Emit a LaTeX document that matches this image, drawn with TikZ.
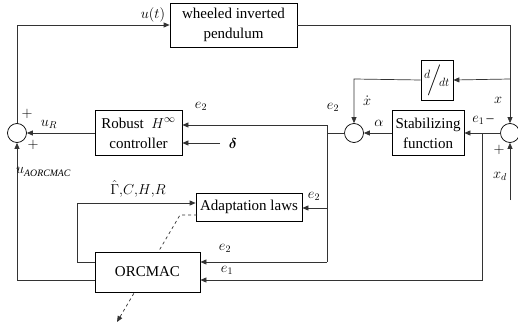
\documentclass[tikz,border=0pt]{standalone}
\usepackage{amsmath}
\usepackage{fontspec}
\setmainfont{Liberation Serif}
\usetikzlibrary{arrows.meta}
\begin{document}
\begin{tikzpicture}[x=1pt,y=-1pt,
  blk/.style={draw,line width=0.7pt,fill=white,inner sep=0pt,align=center,font=\fontsize{15}{20}\selectfont},
  sumc/.style={draw,circle,line width=0.7pt,minimum size=19pt,inner sep=0pt},
  ln/.style={line width=0.7pt,black!80},
  arr/.style={ln,-{Triangle[length=6pt,width=5pt]}},
  lbl/.style={font=\fontsize{14}{16}\selectfont,inner sep=0pt}]
\useasboundingbox (0,0) rectangle (518,326);
% blocks
\node[blk,minimum width=127pt,minimum height=44pt] (plant) at (233.5,25) {wheeled inverted\\pendulum};
\node[blk,minimum width=87pt,minimum height=45pt] (robust) at (138.5,133) {Robust\ \ $H^{\infty}$\\controller};
\node[blk,minimum width=32pt,minimum height=40pt] (ddt) at (437,80) {\fontsize{17}{17}\selectfont$^{d}\!\Big/\!_{dt}$};
\node[blk,minimum width=72pt,minimum height=45pt] (stab) at (428,133) {Stabilizing\\function};
\node[blk,minimum width=106pt,minimum height=28pt] (adapt) at (249,207) {Adaptation laws};
% summing junctions
\node[sumc] (sumL) at (17,133) {};
\node[sumc] (sumM) at (354,133) {};
\node[sumc] (sumR) at (510,133) {};
% coordinates
\coordinate (xb) at (510,79);
\coordinate (ddtc) at (354,79);
\coordinate (e1b) at (482,133);
\coordinate (e1c) at (482,280);
\coordinate (e2a) at (327,133);
\coordinate (e2t) at (327,125);
\coordinate (e2m) at (327,208);
\coordinate (e2b) at (327,262);
\coordinate (dlt) at (220,143);
\coordinate (xd) at (510,200);
\coordinate (lpB) at (77,262);
\coordinate (lpT) at (77,203);
\coordinate (uo) at (17,280);
\coordinate (dsA) at (197,215);
\coordinate (dsB) at (180,215);
\coordinate (dsC) at (117,322);
% dashed adaptation arrow (behind ORCMAC)
\draw[ln,dashed,-{Triangle[length=6pt,width=5pt]}] (dsA) -- (dsB) -- (dsC);
\node[blk,minimum width=105pt,minimum height=40pt] (orcmac) at (147.5,272) {ORCMAC};
% connectors
\draw[arr] (sumL.north) |- (plant.west);
\draw[arr] (plant.east) -| (sumR.north);
\draw[arr] (xb) -- (ddt.east);
\draw[arr] (ddt.west) -- (ddtc) -- (sumM.north);
\draw[arr] (sumR.west) -- (stab.east);
\draw[arr] (e1b) -- (e1c) -- (orcmac.east |- e1c);
\draw[arr] (stab.west) -- (sumM.east);
\draw[ln] (sumM.west) -- (e2a);
\draw[ln] (e2t) -- (e2b);
\draw[arr] (e2t) -- (robust.east |- e2t);
\draw[arr] (e2m) -- (adapt.east |- e2m);
\draw[arr] (e2b) -- (orcmac.east |- e2b);
\draw[arr] (dlt) -- (robust.east |- dlt);
\draw[arr] (robust.west) -- (sumL.east);
\draw[arr] (orcmac.west |- uo) -- (uo) -- (sumL.south);
\draw[arr] (orcmac.west |- lpB) -- (lpB) -- (lpT) -- (adapt.west |- lpT);
\draw[arr] (xd) -- (sumR.south);
% labels
\node[lbl] (lut) at (153,15) {$u(t)$};
\node[lbl] (lp1) at (27,114) {$+$};
\node[lbl] (luR) at (49,124) {$u_R$};
\node[lbl] (lp2) at (33,145) {$+$};
\node[lbl,anchor=west] (luA) at (16,172) {$u_{\mathit{AORCMAC}}$};
\node[lbl] (le2r) at (201,106) {$e_2$};
\node[lbl] (ldel) at (233,143) {$\boldsymbol{\delta}$};
\node[lbl] (le2m) at (333,107) {$e_2$};
\node[lbl] (lxd) at (367,101) {$\dot{x}$};
\node[lbl] (lal) at (379,123) {$\alpha$};
\node[lbl] (le1) at (483,120) {$e_1$\,--};
\node[lbl] (lx) at (498,100) {$x$};
\node[lbl] (lp3) at (499,150) {$+$};
\node[lbl] (lxdd) at (500,176) {$x_d$};
\node[lbl] (lgam) at (138,189) {$\hat{\Gamma}{,}C{,}H{,}R$};
\node[lbl] (le2a) at (314,196) {$e_2$};
\node[lbl] (le2o) at (225,248) {$e_2$};
\node[lbl] (le1o) at (227,270) {$e_1$};
\end{tikzpicture}
\end{document}
